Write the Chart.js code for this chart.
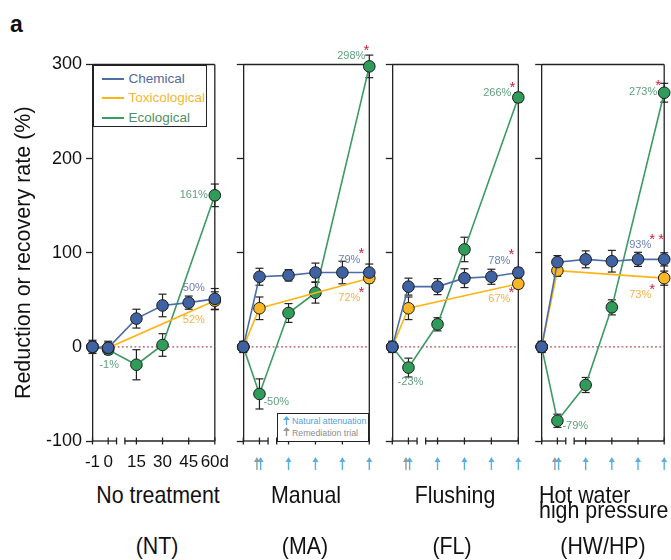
<!DOCTYPE html>
<html>
<head>
<meta charset="utf-8">
<title>Reduction or recovery rate</title>
<script src="https://cdn.jsdelivr.net/npm/chart.js@4.4.1/dist/chart.umd.min.js"></script>
<style>
  html, body { margin: 0; padding: 0; background: #fff; }
  #fig { position: relative; width: 671px; height: 560px; overflow: hidden; background: #fff;
         font-family: "Liberation Sans", Arial, sans-serif; color: #111; }
  #fig canvas { position: absolute; top: 0; }
  .tag { position: absolute; left: 10px; top: 13px; font-weight: bold; font-size: 23px; line-height: 23px; }
  .ttl { position: absolute; font-size: 24px; line-height: 24px; white-space: pre; transform: scaleX(0.89); }
  .ttl.center { width: 200px; text-align: center; transform-origin: 50% 50%; }
  .ttl.left { text-align: left; transform-origin: 0 50%; line-height: 15px; }
  #fig.narrow .ttl { font-family: "Liberation Sans Narrow", "Liberation Sans", sans-serif; font-size: 26px; transform: none; }
  .box { position: absolute; box-sizing: border-box; border: 1.3px solid #222; background: #fff; z-index: 2; }
  .box .row { position: absolute; white-space: nowrap; }
  .box .swatch { position: absolute; height: 2px; }
</style>
</head>
<body>
<div id="fig">
  <div class="tag">a</div>
</div>
<script>
/* ---- data ---- */
const seriesNames = ['Chemical', 'Toxicological', 'Ecological'];
const panelNames = ['No treatment', 'Manual', 'Flushing', 'Hot water\nhigh pressure'];
const panelCodes = ['(NT)', '(MA)', '(FL)', '(HW/HP)'];
const xTickLabels = ['-1', '0', '15', '30', '45', '60d'];
const yTicks = [-100, 0, 100, 200, 300];

const chemDays = [-1, 0, 15, 30, 45, 60];
const toxDays = [-1, 0, 60];
const ecoDays = [-1, 0, 15, 30, 60];
const attenuationDays = [0, 15, 30, 45, 60];
const trialDays = [0];

const chemVals = [
  [0, -1, 30, 44, 47, 51],
  [0, 74.5, 76, 79, 79, 79],
  [0, 64, 64, 73, 74.5, 79],
  [0, 90, 93, 91, 93, 93]
];
const chemErr = [
  [7, 7, 10, 12, 7, 11],
  [6, 9, 6, 10, 12, 9],
  [6, 9, 8.5, 10, 8, 5],
  [6, 7, 9, 11.5, 7.5, 7]
];
const toxVals = [
  [0, -1, 49],
  [0, 41, 73],
  [0, 41, 67],
  [0, 81, 73]
];
const toxErr = [
  [5, 5, 9.5],
  [5, 12, 5],
  [5, 12, 5],
  [5, 6, 7.5]
];
const ecoVals = [
  [0, -3, -19, 2, 161],
  [0, -50, 36, 57.5, 298],
  [0, -22, 24, 103.5, 265],
  [0, -78.5, -40.5, 42, 270]
];
const ecoErr = [
  [5, 5, 16, 12, 12],
  [5, 16, 10, 11, 12],
  [5, 10, 7, 13, 5],
  [5, 7, 8, 8, 10]
];
const chemEndLabels = ['50%', '79%', '78%', '93%'];
const toxEndLabels = ['52%', '72%', '67%', '73%'];
const ecoEndLabels = ['161%', '298%', '266%', '273%'];
const ecoDipLabels = ['-1%', '-50%', '-23%', '-79%'];
const chemStars = ['', '*', '*', '**'];
const toxStars = ['', '*', '*', '*'];
const ecoStars = ['', '*', '*', '*'];

/* ---- styling / layout ---- */
const BLUE = '#3f62a3', BLUE_LINE = '#4c6ea6', BLUE_TXT = '#6a7fb0';
const ORANGE = '#f9b625', ORANGE_LINE = '#fdb515', ORANGE_TXT = '#f2b34a';
const GREEN = '#2f9c59', GREEN_LINE = '#3c9a62', GREEN_TXT = '#5f9f7d';
const ARROW_BLUE = '#5aaee2', ARROW_GRAY = '#999999';
const STAR_RED = '#d2233f', ZERO_RED = '#b4485e', INK = '#222';
const FONT = '"Liberation Sans", Arial, sans-serif';

const PANEL_LEFT = [92.5, 243.3, 392.3, 541.7];
const PANEL_W = [127.5, 126, 126, 126];
const CANVAS_LEFT = [0, 223, 372, 521];
const CANVAS_RIGHT = [240, 385, 533, 671];
const PLOT_TOP = 64.5, PLOT_BOTTOM = 441, CANVAS_H = 480;
const TITLE_CENTER = [157.5, 306, 455, 539.3];
const CODE_CENTER = [157, 305, 452, 603];

// label offsets from their point (px): [dx, dy]
const LABEL_OFFSETS = [
  { chem: [-10, -11], tox: [-10, 19], eco: [-7, 0], dip: [1, 15, 'center'] },
  { chem: [-9, -13], tox: [-9, 20], eco: [-4, -10], dip: [4, 8, 'left'] },
  { chem: [-8, -12], tox: [-8, 15], eco: [-7, -4], dip: [2, 14, 'center'] },
  { chem: [-13, -14], tox: [-13, 17], eco: [-7, -1], dip: [5, 5, 'left'] }
];

// broken day axis: -1..0 compressed, then 15-day steps
function axisPos(day) {
  return day <= 0 ? (day + 1) * 0.6 : 1.68 + (day - 15) / 15;
}
const X_MAX = axisPos(60);
const BREAK_END = 0.92, BREAK_START = 1.24;

// the original uses a condensed face for the day ticks and panel names
function hasFont(name) {
  const c = document.createElement('canvas').getContext('2d');
  const probe = 'No treatment 0123456789';
  c.font = '20px monospace';
  const w0 = c.measureText(probe).width;
  c.font = `20px "${name}", monospace`;
  return c.measureText(probe).width !== w0;
}
const NARROW = hasFont('Liberation Sans Narrow');
const dayTickFont = NARROW ? { family: '"Liberation Sans Narrow", ' + FONT, size: 20 } : { size: 17 };

Chart.defaults.font.family = FONT;
const fig = document.getElementById('fig');
if (NARROW) fig.classList.add('narrow');

function line(ctx, x1, y1, x2, y2) {
  ctx.beginPath(); ctx.moveTo(x1, y1); ctx.lineTo(x2, y2); ctx.stroke();
}

function drawArrow(ctx, x, yTip, color) {
  ctx.fillStyle = color;
  ctx.beginPath();
  ctx.moveTo(x, yTip); ctx.lineTo(x + 3, yTip + 5); ctx.lineTo(x - 3, yTip + 5);
  ctx.closePath(); ctx.fill();
  ctx.fillRect(x - 0.7, yTip + 4, 1.4, 9);
}

const frameAxes = {
  id: 'frameAxes',
  beforeDatasetsDraw(chart) {
    const { ctx, chartArea: a, scales: { x, y } } = chart;
    ctx.save();
    ctx.strokeStyle = INK; ctx.lineWidth = 1.3;
    line(ctx, a.left, a.top, a.right, a.top);
    line(ctx, a.right, a.top, a.right, a.bottom);
    const b = a.bottom;
    const e1 = x.getPixelForValue(BREAK_END), e2 = x.getPixelForValue(BREAK_START);
    line(ctx, a.left, b, e1, b);
    line(ctx, e2, b, a.right, b);
    [e1, e2].concat(chemDays.map(d => x.getPixelForValue(axisPos(d))))
      .forEach(px => line(ctx, px, b - 3.5, px, b + 3.5));

    const y0 = y.getPixelForValue(0);
    ctx.strokeStyle = ZERO_RED; ctx.setLineDash([1.8, 2.4]);
    line(ctx, a.left, y0, a.right, y0);
    ctx.setLineDash([]);

    // error bars under the markers
    ctx.strokeStyle = INK; ctx.lineWidth = 1.2;
    chart.data.datasets.forEach((ds, i) => {
      const meta = chart.getDatasetMeta(i);
      ds.data.forEach((p, j) => {
        const e = ds.errors[j];
        const px = meta.data[j].x;
        const t = y.getPixelForValue(p.y + e), bt = y.getPixelForValue(p.y - e);
        line(ctx, px, t, px, bt);
        line(ctx, px - 4, t, px + 4, t);
        line(ctx, px - 4, bt, px + 4, bt);
      });
    });
    ctx.restore();
  },
  afterDraw(chart, args, opts) {
    if (!opts.arrows) return;
    const { ctx, chartArea: a, scales: { x } } = chart;
    const yTip = a.bottom + 16;
    ctx.save();
    trialDays.forEach(d => drawArrow(ctx, x.getPixelForValue(axisPos(d)) - 2.5, yTip, ARROW_GRAY));
    attenuationDays.forEach((d, k) => drawArrow(ctx, x.getPixelForValue(axisPos(d)) + (k === 0 ? 1.2 : 0), yTip, ARROW_BLUE));
    ctx.restore();
  }
};

const pctLabels = {
  id: 'pctLabels',
  afterDatasetsDraw(chart, args, opts) {
    const { ctx, scales: { x, y } } = chart;
    ctx.save();
    opts.items.forEach(it => {
      const px = x.getPixelForValue(axisPos(it.day)) + it.dx;
      const py = y.getPixelForValue(it.value) + it.dy;
      ctx.font = '11px ' + FONT;
      ctx.fillStyle = it.color; ctx.textAlign = it.align; ctx.textBaseline = 'middle';
      ctx.fillText(it.text, px, py);
      if (it.stars) {
        ctx.font = '15px ' + FONT;
        ctx.fillStyle = STAR_RED; ctx.textAlign = 'center'; ctx.textBaseline = 'alphabetic';
        for (let k = 0; k < it.stars.length; k++) ctx.fillText('*', px + 1 + 9 * k, py - 1.4);
      }
    });
    ctx.restore();
  }
};

function points(days, vals) {
  return days.map((d, j) => ({ x: axisPos(d), y: vals[j] }));
}

const lineStyle = {
  showLine: true, borderWidth: 1.6, tension: 0, clip: false,
  pointRadius: 5.8, pointHoverRadius: 5.8, pointBorderWidth: 1, pointBorderColor: '#1b1b1b'
};

panelNames.forEach((name, i) => {
  const cv = document.createElement('canvas');
  const w = CANVAS_RIGHT[i] - CANVAS_LEFT[i];
  cv.width = w; cv.height = CANVAS_H;
  cv.style.left = CANVAS_LEFT[i] + 'px';
  cv.style.width = w + 'px'; cv.style.height = CANVAS_H + 'px';
  fig.appendChild(cv);
  const yW = PANEL_LEFT[i] - CANVAS_LEFT[i];
  const padRight = w - yW - PANEL_W[i];
  const off = LABEL_OFFSETS[i];
  const last = a => a[a.length - 1];

  const items = [
    { text: chemEndLabels[i], color: BLUE_TXT, day: 60, value: last(chemVals[i]), dx: off.chem[0], dy: off.chem[1], align: 'right', stars: chemStars[i] },
    { text: toxEndLabels[i], color: ORANGE_TXT, day: 60, value: last(toxVals[i]), dx: off.tox[0], dy: off.tox[1], align: 'right', stars: toxStars[i] },
    { text: ecoEndLabels[i], color: GREEN_TXT, day: 60, value: last(ecoVals[i]), dx: off.eco[0], dy: off.eco[1], align: 'right', stars: ecoStars[i] },
    { text: ecoDipLabels[i], color: GREEN_TXT, day: 0, value: ecoVals[i][1], dx: off.dip[0], dy: off.dip[1], align: off.dip[2], stars: '' }
  ];

  new Chart(cv, {
    type: 'scatter',
    data: {
      datasets: [
        { label: seriesNames[0], data: points(chemDays, chemVals[i]), errors: chemErr[i],
          borderColor: BLUE_LINE, pointBackgroundColor: BLUE, ...lineStyle },
        { label: seriesNames[1], data: points(toxDays, toxVals[i]), errors: toxErr[i],
          borderColor: ORANGE_LINE, pointBackgroundColor: ORANGE, ...lineStyle },
        { label: seriesNames[2], data: points(ecoDays, ecoVals[i]), errors: ecoErr[i],
          borderColor: GREEN_LINE, pointBackgroundColor: GREEN, ...lineStyle }
      ]
    },
    options: {
      responsive: false, animation: false, events: [],
      layout: { padding: { top: PLOT_TOP, bottom: 0, left: 0, right: padRight } },
      plugins: {
        legend: { display: false }, tooltip: { enabled: false },
        frameAxes: { arrows: i > 0 },
        pctLabels: { items }
      },
      scales: {
        x: {
          type: 'linear', min: 0, max: X_MAX,
          afterBuildTicks: s => { s.ticks = chemDays.map(d => ({ value: axisPos(d) })); },
          afterFit: s => { s.height = CANVAS_H - PLOT_BOTTOM; },
          grid: { display: false, drawTicks: false }, border: { display: false },
          ticks: { display: i === 0, autoSkip: false, maxRotation: 0, padding: 11, color: '#111',
                   font: dayTickFont, callback: (v, k) => xTickLabels[k] }
        },
        y: {
          min: -100, max: 300,
          afterBuildTicks: s => { s.ticks = yTicks.map(v => ({ value: v })); },
          afterFit: s => { s.width = yW; },
          grid: { drawOnChartArea: false, drawTicks: true, tickLength: 6.5, tickWidth: 1.3, tickColor: INK, color: INK },
          border: { display: true, color: INK, width: 1.3 },
          ticks: { display: i === 0, padding: 4, color: '#111', font: { size: 18 } },
          title: { display: i === 0, text: 'Reduction or recovery rate (%)', color: '#111',
                   font: { size: 21.5 }, padding: { top: 11.6, bottom: 0 } }
        }
      }
    },
    plugins: [frameAxes, pctLabels]
  });
});

/* ---- panel titles ---- */
panelNames.forEach((name, i) => {
  const d = document.createElement('div');
  d.textContent = name;
  if (name.includes('\n')) {
    d.className = 'ttl left';
    d.style.left = TITLE_CENTER[i] + 'px'; d.style.top = NARROW ? '486.5px' : '487px';
  } else {
    d.className = 'ttl center';
    d.style.left = (TITLE_CENTER[i] - 100) + 'px'; d.style.top = '482.5px';
  }
  fig.appendChild(d);
  const c = document.createElement('div');
  c.className = 'ttl center';
  c.textContent = panelCodes[i];
  c.style.left = (CODE_CENTER[i] - 100) + 'px'; c.style.top = '533.5px';
  fig.appendChild(c);
});

/* ---- series legend (inside NT panel) ---- */
const legendColors = [BLUE_LINE, ORANGE_LINE, GREEN_LINE];
const legendText = ['#51699b', '#f4b731', '#4f8f6b'];
const lg = document.createElement('div');
lg.className = 'box';
lg.style.cssText = 'left:92.5px;top:64.5px;width:114.2px;height:62.8px;';
seriesNames.forEach((s, k) => {
  const cy = Math.round(12.8 + k * 19.35);
  lg.insertAdjacentHTML('beforeend',
    `<span class="swatch" style="left:8px;top:${cy - 1}px;width:22px;background:${legendColors[k]}"></span>` +
    `<span class="row" style="left:35px;top:${cy - 8}px;font-size:13.5px;line-height:16px;color:${legendText[k]}">${s}</span>`);
});
fig.appendChild(lg);

/* ---- sampling legend (inside MA panel) ---- */
const arrowSvg = c => `<svg width="7" height="9" viewBox="0 0 7 9" style="position:absolute;left:5px;top:-0.5px"><path d="M3.5 0 L7 4 H4.2 V9 H2.8 V4 H0 Z" fill="${c}"/></svg>`;
const sl = document.createElement('div');
sl.className = 'box';
sl.style.cssText = 'left:276.5px;top:413.3px;width:92.8px;height:28.5px;';
[['Natural attenuation', ARROW_BLUE, 7.4], ['Remediation trial', ARROW_GRAY, 19]].forEach(([t, c, cy]) => {
  sl.insertAdjacentHTML('beforeend',
    `<span class="row" style="left:0;top:${cy - 5.5}px;width:90px;height:11px;">${arrowSvg(c)}` +
    `<span style="position:absolute;left:14.5px;top:0;font-size:8.8px;line-height:11px;color:${c === ARROW_BLUE ? '#4fa3dc' : '#8c8c8c'}">${t}</span></span>`);
});
fig.appendChild(sl);
</script>
</body>
</html>
